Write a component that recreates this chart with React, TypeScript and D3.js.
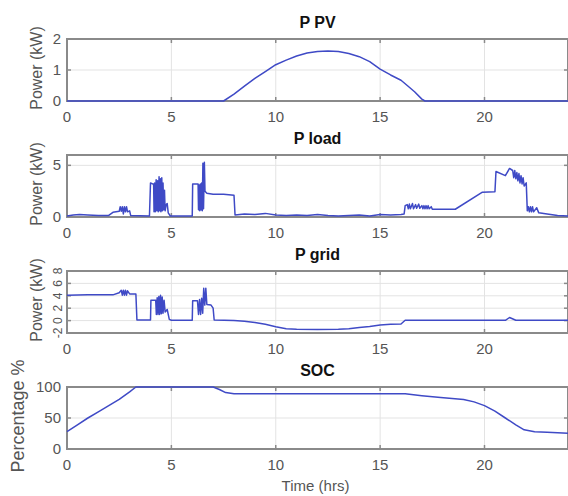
import React from "react";
import * as d3 from "d3";

type Pt = [number, number];

const xTicks = [0, 5, 10, 15, 20];

const pvData: Pt[] = [
  [0, 0], [7.5, 0], [8, 0.22], [8.5, 0.48], [9, 0.73], [9.5, 0.95], [10, 1.17],
  [10.5, 1.32], [11, 1.45], [11.5, 1.55], [12, 1.6], [12.5, 1.61], [13, 1.6],
  [13.5, 1.53], [14, 1.43], [14.5, 1.27], [15, 1.03], [15.5, 0.84], [16, 0.67],
  [16.3, 0.5], [16.65, 0.3], [17, 0.06], [17.15, 0], [24, 0],
];

const loadData: Pt[] = [
  [0, 0.1], [0.3, 0.2], [0.6, 0.25], [1.0, 0.2], [1.5, 0.15], [2.0, 0.15],
  [2.2, 0.45], [2.5, 0.55], [2.55, 1.0], [2.6, 0.55], [2.65, 1.0], [2.7, 0.3],
  [2.75, 1.0], [2.8, 0.5], [2.85, 1.0], [2.9, 0.5], [3.0, 0.6], [3.05, 0.15],
  [3.95, 0.1], [4.0, 3.3], [4.1, 3.2], [4.15, 3.2], [4.17, 0.5], [4.2, 3.3],
  [4.23, 0.5], [4.27, 3.6], [4.3, 0.6], [4.34, 3.5], [4.37, 0.5], [4.41, 3.9],
  [4.44, 0.6], [4.48, 3.7], [4.5, 0.5], [4.54, 3.8], [4.57, 0.6], [4.6, 3.3],
  [4.63, 0.7], [4.67, 2.6], [4.7, 0.6], [4.75, 1.2], [4.8, 1.3], [4.85, 0.4],
  [4.95, 0.1], [6.0, 0.1], [6.02, 3.2], [6.28, 3.2], [6.3, 0.7], [6.33, 3.1],
  [6.36, 0.6], [6.39, 3.2], [6.42, 0.7], [6.45, 3.3], [6.48, 0.6], [6.51, 5.2],
  [6.54, 0.8], [6.58, 5.3], [6.61, 2.5], [6.7, 2.3], [7.0, 2.2], [7.5, 2.2],
  [8.0, 2.1], [8.05, 0.2], [8.5, 0.3], [9, 0.25], [9.5, 0.35], [10, 0.2],
  [10.5, 0.15], [11, 0.2], [11.5, 0.15], [12, 0.25], [12.5, 0.15], [13, 0.1],
  [13.5, 0.15], [14, 0.2], [14.5, 0.1], [15, 0.25], [15.5, 0.2], [16.0, 0.25],
  [16.15, 0.3], [16.2, 1.1], [16.3, 1.2], [16.35, 0.8], [16.4, 1.25],
  [16.45, 0.8], [16.55, 1.3], [16.6, 0.8], [16.7, 1.2], [16.75, 0.85],
  [16.85, 1.25], [16.9, 0.85], [17.0, 1.1], [17.05, 0.8], [17.1, 1.1],
  [17.15, 0.8], [17.2, 1.1], [17.25, 0.8], [17.3, 1.1], [17.35, 0.8],
  [17.45, 1.0], [17.5, 0.75], [18.6, 0.75], [19.9, 2.4], [20.5, 2.45],
  [20.55, 4.4], [21.0, 4.0], [21.2, 4.7], [21.35, 4.5], [21.4, 3.8],
  [21.45, 4.5], [21.5, 3.7], [21.55, 4.3], [21.6, 3.5], [21.65, 4.2],
  [21.7, 3.3], [21.75, 4.0], [21.8, 3.2], [21.85, 3.8], [21.9, 3.0],
  [22.0, 3.3], [22.05, 0.6], [22.1, 1.0], [22.15, 0.5], [22.2, 1.0],
  [22.25, 0.5], [22.3, 1.0], [22.35, 0.5], [22.5, 0.9], [22.6, 0.4],
  [23, 0.3], [23.5, 0.15], [24, 0.1],
];

const gridData: Pt[] = [
  [0, 4.1], [1, 4.15], [2.2, 4.15], [2.5, 4.5], [2.6, 4.9], [2.65, 4.1],
  [2.7, 4.9], [2.75, 4.1], [2.8, 4.9], [2.85, 4.1], [2.9, 4.8], [3.0, 4.3],
  [3.3, 4.3], [3.35, 0.1], [4.0, 0.1], [4.02, 3.3], [4.25, 3.3], [4.28, 1.0],
  [4.32, 3.7], [4.36, 1.0], [4.4, 3.9], [4.44, 1.0], [4.48, 4.1], [4.52, 1.1],
  [4.56, 3.8], [4.6, 1.2], [4.65, 3.3], [4.7, 1.4], [4.8, 1.8], [4.85, 1.0],
  [4.9, 0.2], [5, 0.05], [6.0, 0.05], [6.02, 3.2], [6.25, 3.2], [6.3, 1.0],
  [6.35, 3.4], [6.4, 1.0], [6.45, 3.6], [6.5, 1.2], [6.55, 5.2], [6.6, 2.5],
  [6.65, 5.2], [6.7, 2.6], [6.9, 2.5], [7.0, 2.0], [7.05, 0.1], [8, 0.0],
  [8.5, -0.1], [9, -0.3], [9.5, -0.6], [10, -1.0], [10.5, -1.3], [11, -1.4],
  [12, -1.45], [13, -1.4], [13.5, -1.3], [14, -1.1], [14.5, -0.95], [15, -0.7],
  [15.5, -0.6], [16, -0.55], [16.2, 0.05], [21.0, 0.05], [21.2, 0.5],
  [21.5, 0.05], [24, 0.05],
];

const socData: Pt[] = [
  [0, 28], [0.5, 39], [1, 50], [1.5, 60], [2, 70], [2.5, 80], [3, 92],
  [3.3, 100], [7.0, 100], [7.3, 96], [7.6, 91], [8.0, 89], [16.2, 89],
  [17, 86], [17.9, 83], [19, 80], [19.5, 76], [20, 70], [20.5, 61], [21, 50],
  [21.5, 39], [21.9, 31], [22.4, 28], [23, 27], [24, 25.5],
];

const panelTitles = ["P PV", "P load", "P grid", "SOC"];
const panelYLabels = ["Power (kW)", "Power (kW)", "Power (kW)", "Percentage %"];
const panelDomains: [number, number][] = [[0, 2], [0, 6], [-2, 8], [0, 100]];
const panelYTicks = [[0, 1, 2], [0, 5], [-2, 0, 2, 4, 6, 8], [0, 50, 100]];
const panelSeries = [pvData, loadData, gridData, socData];
const xLabel = "Time (hrs)";

const W = 568;
const H = 496;
const left = 67;
const right = 568;
const panelTops = [39, 155, 271, 387];
const panelH = 62;

const lineColor = "#3f4ac6";
const axisColor = "#8a8a8a";
const gridColor = "#e3e3e3";
const textGray = "#555";
const font = "'Liberation Sans', Arial, Helvetica, sans-serif";

export default function App() {
  const x = d3.scaleLinear().domain([0, 24]).range([left, right]);
  return (
    <svg width={W} height={H} style={{ position: "absolute", left: 0, top: 0, background: "#fff" }} fontFamily={font}>
      {panelTitles.map((title, i) => {
        const top = panelTops[i];
        const bottom = top + panelH;
        const y = d3.scaleLinear().domain(panelDomains[i]).range([bottom, top]);
        const line = d3.line<Pt>().x((d) => x(d[0])).y((d) => y(d[1]));
        const rotatedTicks = i === 2;
        return (
          <g key={title}>
            {xTicks.filter((t) => t > 0).map((t) => (
              <line key={"gx" + t} x1={x(t)} x2={x(t)} y1={top} y2={bottom} stroke={gridColor} strokeWidth={1} />
            ))}
            {panelYTicks[i].filter((t) => y(t) > top + 1 && y(t) < bottom - 1).map((t) => (
              <line key={"gy" + t} x1={left} x2={right} y1={y(t)} y2={y(t)} stroke={gridColor} strokeWidth={1} />
            ))}
            <rect x={left} y={top} width={right - left} height={panelH} fill="none" stroke={axisColor} strokeWidth={2} />
            {xTicks.filter((t) => t > 0).map((t) => (
              <g key={"tx" + t}>
                <line x1={x(t)} x2={x(t)} y1={bottom} y2={bottom - 4} stroke={axisColor} strokeWidth={1.5} />
                <line x1={x(t)} x2={x(t)} y1={top} y2={top + 4} stroke={axisColor} strokeWidth={1.5} />
              </g>
            ))}
            {panelYTicks[i].map((t) => (
              <g key={"ty" + t}>
                <line x1={left} x2={left + 4} y1={y(t)} y2={y(t)} stroke={axisColor} strokeWidth={1.5} />
                <line x1={right - 4} x2={right} y1={y(t)} y2={y(t)} stroke={axisColor} strokeWidth={1.5} />
              </g>
            ))}
            <path d={line(panelSeries[i]) || ""} fill="none" stroke={lineColor} strokeWidth={1.5} strokeLinejoin="round" />
            {xTicks.map((t) => (
              <text key={"lx" + t} x={x(t)} y={bottom + 21} textAnchor="middle" fontSize={15} fill={textGray}>{t}</text>
            ))}
            {panelYTicks[i].map((t) =>
              rotatedTicks ? (
                <text key={"ly" + t} transform={`translate(${left - 5},${y(t)}) rotate(-90)`} textAnchor="middle" fontSize={12} fill={textGray}>{t}</text>
              ) : (
                <text key={"ly" + t} x={left - 6} y={y(t) + 5} textAnchor="end" fontSize={15} fill={textGray}>{t}</text>
              )
            )}
            <text x={(left + right) / 2} y={top - 11} textAnchor="middle" fontSize={16} fontWeight="bold" fill="#111">{title}</text>
            <text
              transform={`translate(${i === 3 ? 24 : 42},${top + panelH / 2 - 2}) rotate(-90)`}
              textAnchor="middle"
              fontSize={i === 3 ? 18 : 16}
              fill={textGray}
            >
              {panelYLabels[i]}
            </text>
          </g>
        );
      })}
      <text x={(left + right) / 2 - 2} y={491} textAnchor="middle" fontSize={15} fill={textGray}>{xLabel}</text>
    </svg>
  );
}
